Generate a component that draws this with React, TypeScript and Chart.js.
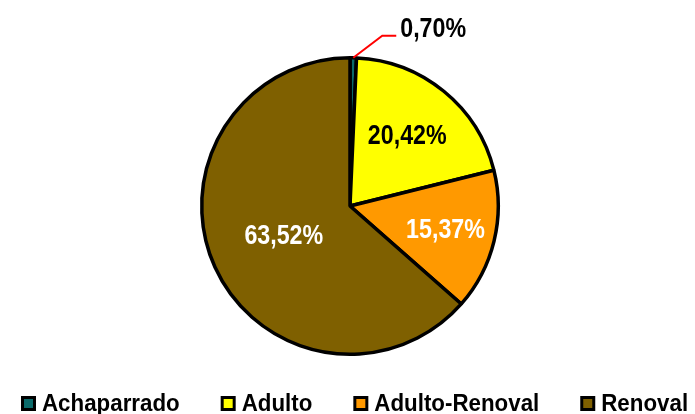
import React, { useEffect, useRef } from "react";
import { Chart, registerables } from "chart.js";

Chart.register(...registerables);

const categories = ["Achaparrado", "Adulto", "Adulto-Renoval", "Renoval"];
const values = [0.7, 20.42, 15.37, 63.52];
const sliceColors = ["#0B6B6B", "#FFFF00", "#FF9900", "#7F6000"];
const labelColors = ["#000000", "#000000", "#FFFFFF", "#FFFFFF"];
const labelTexts = values.map((v) => v.toFixed(2).replace(".", ",") + "%");

const FONT = "'Liberation Sans', Arial, sans-serif";

function condensedText(ctx: any, text: string, x: number, y: number, align: string, sx: number) {
  ctx.save();
  ctx.translate(x, y);
  ctx.scale(sx, 1);
  ctx.textAlign = align;
  ctx.fillText(text, 0, 0);
  ctx.restore();
}

const labelPlugin = {
  id: "sliceLabels",
  afterDatasetsDraw(chart: any) {
    const ctx = chart.ctx;
    const meta = chart.getDatasetMeta(0);
    const radial = [0, 0.61, 0.663, 0.49];
    ctx.save();
    ctx.font = `bold 27px ${FONT}`;
    ctx.textBaseline = "middle";
    meta.data.forEach((arc: any, i: number) => {
      const { x, y, startAngle, endAngle, outerRadius } = arc.getProps(
        ["x", "y", "startAngle", "endAngle", "outerRadius"],
        true
      );
      const mid = (startAngle + endAngle) / 2;
      if (i === 0) {
        const ex = x + Math.cos(mid) * outerRadius;
        const ey = y + Math.sin(mid) * outerRadius;
        const kx = ex + 29;
        const ky = ey - 22;
        ctx.strokeStyle = "#FF0000";
        ctx.lineWidth = 2;
        ctx.beginPath();
        ctx.moveTo(ex, ey);
        ctx.lineTo(kx, ky);
        ctx.lineTo(kx + 14, ky);
        ctx.stroke();
        ctx.fillStyle = labelColors[i];
        condensedText(ctx, labelTexts[i], kx + 18, ky - 6, "left", 0.86);
        return;
      }
      const r = outerRadius * radial[i];
      ctx.fillStyle = labelColors[i];
      condensedText(
        ctx,
        labelTexts[i],
        x + Math.cos(mid) * r,
        y + Math.sin(mid) * r + 1,
        "center",
        0.86
      );
    });
    ctx.restore();
  },
};

const legendPlugin = {
  id: "bottomLegend",
  afterDraw(chart: any) {
    const ctx = chart.ctx;
    ctx.save();
    ctx.font = `bold 24px ${FONT}`;
    ctx.textBaseline = "middle";
    const sx = 0.93;
    const box = 15;
    const border = 3;
    const gapText = 6;
    const gapItem = 41;
    let x = 21;
    const cy = 403.5;
    categories.forEach((c, i) => {
      ctx.fillStyle = "#000000";
      ctx.fillRect(x, cy - box / 2, box, box);
      ctx.fillStyle = sliceColors[i];
      ctx.fillRect(x + border, cy - box / 2 + border, box - 2 * border, box - 2 * border);
      ctx.fillStyle = "#000000";
      condensedText(ctx, c, x + box + gapText, cy + 1, "left", sx);
      x += box + gapText + ctx.measureText(c).width * sx + gapItem;
    });
    ctx.restore();
  },
};

export default function App() {
  const ref = useRef<HTMLCanvasElement>(null);
  useEffect(() => {
    if (!ref.current) return;
    const chart = new Chart(ref.current, {
      type: "pie",
      data: {
        labels: categories,
        datasets: [
          {
            data: values,
            backgroundColor: sliceColors,
            borderColor: "#000000",
            borderWidth: 3.5,
          },
        ],
      },
      options: {
        responsive: false,
        animation: false,
        layout: { padding: { top: 56, bottom: 58, left: 200, right: 195 } },
        plugins: {
          legend: { display: false },
          tooltip: { enabled: false },
        },
      },
      plugins: [labelPlugin, legendPlugin],
    });
    return () => chart.destroy();
  }, []);
  return (
    <div style={{ position: "absolute", left: 0, top: 0, width: 695, height: 414, background: "#fff" }}>
      <canvas ref={ref} width={695} height={414} style={{ display: "block" }} />
    </div>
  );
}
